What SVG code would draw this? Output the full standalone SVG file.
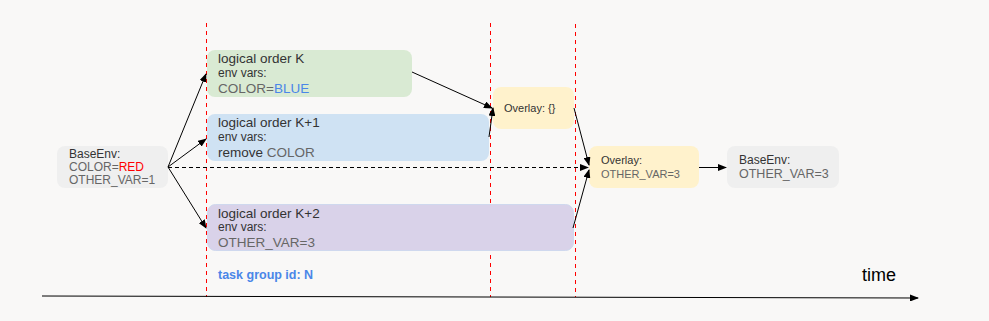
<svg xmlns="http://www.w3.org/2000/svg" width="989" height="321" viewBox="0 0 989 321">
<style>
text{font-family:"Liberation Sans",Arial,sans-serif;}
.t{font-size:13.5px;fill:#333333;}
.s{font-size:12px;fill:#333333;}
.g{font-size:13.5px;fill:#666666;}
.gs{font-size:11px;fill:#666666;}
.c{stroke:#000;stroke-width:1;fill:none;}
.d{stroke:#000;stroke-width:1;fill:none;stroke-dasharray:4,3;}
.r{stroke:#ff0000;stroke-width:1;fill:none;stroke-dasharray:4,4;}
</style>
<defs>
<marker id="ah" markerWidth="9" markerHeight="7" refX="8" refY="3.5" orient="auto" markerUnits="userSpaceOnUse">
<path d="M0,0 L9,3.5 L0,7 z" fill="#000"/>
</marker>
</defs>
<rect width="989" height="321" fill="#f9f8f7"/>
<g id="guides">
<line class="r" x1="206.5" y1="23" x2="206.5" y2="297"/>
<line class="r" x1="490.5" y1="23" x2="490.5" y2="297"/>
<line class="r" x1="575.5" y1="24" x2="575.5" y2="297"/>
</g>
<g id="base-env">
<rect x="57" y="146" width="111" height="42" rx="8" fill="#efefef"/>
<text x="69" y="158" style="font-size:12px;fill:#333333">BaseEnv:</text>
<text x="69" y="171" style="font-size:12px;fill:#666666">COLOR=<tspan fill="#ff0000">RED</tspan></text>
<text x="69" y="184" style="font-size:12px;fill:#666666">OTHER_VAR=1</text>
</g>
<g id="order-k">
<rect x="207" y="50" width="205" height="47" rx="8" fill="#d9ead3"/>
<text x="218" y="63" class="t">logical order K</text>
<text x="218" y="77" class="s">env vars:</text>
<text x="218" y="93" class="g">COLOR=<tspan fill="#4a86e8">BLUE</tspan></text>
</g>
<g id="order-k1">
<rect x="207" y="114" width="282" height="47" rx="8" fill="#cfe2f3"/>
<text x="218" y="127" class="t">logical order K+1</text>
<text x="218" y="141" class="s">env vars:</text>
<text x="218" y="157" class="t">remove <tspan fill="#666666">COLOR</tspan></text>
</g>
<g id="order-k2">
<rect x="207.5" y="204.5" width="366" height="46" rx="8" fill="#d9d2e9" stroke="#cfd8ee" stroke-width="1"/>
<text x="218" y="218" class="t">logical order K+2</text>
<text x="218" y="231" class="s">env vars:</text>
<text x="218" y="247" class="g">OTHER_VAR=3</text>
</g>
<g id="task-group">
<text x="218" y="279" style="font-size:12.5px;font-weight:bold;fill:#4a86e8">task group id: N</text>
</g>
<g id="overlay-empty">
<rect x="493" y="87" width="81" height="42" rx="8" fill="#fff2cc"/>
<text x="504" y="112" style="font-size:11px;fill:#333333">Overlay: {}</text>
</g>
<g id="overlay-merged">
<rect x="589" y="146" width="110" height="42" rx="8" fill="#fff2cc"/>
<text x="601" y="164" style="font-size:11px;fill:#333333">Overlay:</text>
<text x="601" y="178" class="gs">OTHER_VAR=3</text>
</g>
<g id="base-env-result">
<rect x="727" y="146" width="112" height="42" rx="8" fill="#efefef"/>
<text x="739" y="164" style="font-size:12px;fill:#333333">BaseEnv:</text>
<text x="739" y="178" style="font-size:12.5px;fill:#666666">OTHER_VAR=3</text>
</g>
<g id="time-label">
<text x="862" y="281" style="font-size:18px;fill:#000">time</text>
</g>
<g id="connectors">
<line class="c" x1="168" y1="167" x2="206" y2="74" marker-end="url(#ah)"/>
<line class="c" x1="168" y1="167" x2="206" y2="139" marker-end="url(#ah)"/>
<line class="c" x1="168" y1="167" x2="206" y2="228" marker-end="url(#ah)"/>
<line class="d" x1="168" y1="167.5" x2="588" y2="167.5" marker-end="url(#ah)"/>
<line class="c" x1="412" y1="72" x2="492" y2="108" marker-end="url(#ah)"/>
<line class="c" x1="489" y1="137" x2="493" y2="108" marker-end="url(#ah)"/>
<line class="c" x1="574" y1="108" x2="589" y2="165" marker-end="url(#ah)"/>
<line class="c" x1="573" y1="228" x2="589" y2="170" marker-end="url(#ah)"/>
<line class="c" x1="699" y1="167.5" x2="726" y2="167.5" marker-end="url(#ah)"/>
<line class="c" x1="42" y1="296" x2="918" y2="298" marker-end="url(#ah)"/>
</g>
</svg>
